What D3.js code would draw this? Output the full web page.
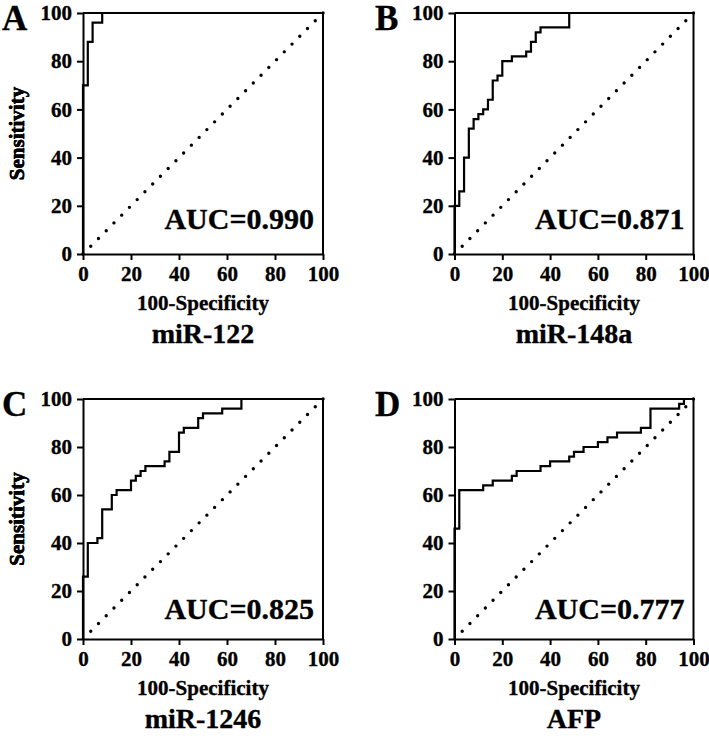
<!DOCTYPE html>
<html>
<head>
<meta charset="utf-8">
<script src="https://cdn.jsdelivr.net/npm/d3@7"></script>
<style>
  html, body { margin: 0; padding: 0; background: #fff; }
  svg text { font-family: "Times New Roman", "Liberation Serif", serif; font-weight: bold; fill: #000; stroke: #000; stroke-width: 0.35px; }
</style>
</head>
<body>
<svg id="chart" width="709" height="736"></svg>
<script>
// ---- data ----
const axisTicks = [0, 20, 40, 60, 80, 100];
const panelLetters = ["A", "B", "C", "D"];
const markerNames = ["miR-122", "miR-148a", "miR-1246", "AFP"];
const aucLabels = ["AUC=0.990", "AUC=0.871", "AUC=0.825", "AUC=0.777"];
const xTitle = "100-Specificity";
const yTitle = "Sensitivity";

// ROC corner points (100-Specificity %, Sensitivity %)
const fprA  = [0, 0, 2, 4, 8, 100];
const sensA = [0, 70, 88, 96, 100, 100];

const fprB  = [0, 0, 2, 4, 6, 8, 10, 12, 14, 16, 18, 20, 24, 30, 32, 34, 36, 48, 100];
const sensB = [0, 20, 26, 40, 52, 56, 58, 60, 64, 72, 74, 80, 82, 84, 88, 92, 94, 100, 100];

const fprC  = [0, 0, 2, 6, 8, 12, 14, 20, 22, 24, 26, 34, 36, 40, 42, 48, 50, 58, 66, 100];
const sensC = [0, 26, 40, 42, 54, 60, 62, 66, 68, 70, 72, 74, 78, 86, 88, 92, 94, 96, 100, 100];

const fprD  = [0, 0, 2, 12, 16, 24, 26, 36, 40, 48, 50, 54, 60, 64, 68, 78, 82, 94, 96, 100];
const sensD = [0, 46, 62, 64, 66, 68, 70, 72, 74, 76, 78, 80, 82, 84, 86, 88, 96, 98, 100, 100];

const referenceLine = [[0, 0], [100, 100]];

// ---- layout ----
const svg = d3.select("#chart");
const panels = [
  { fpr: fprA, sens: sensA, left: 83,    right: 323,   top: 13,  bottom: 254, aucOff: 25, lx: 2,   ly: 30 },
  { fpr: fprB, sens: sensB, left: 454.5, right: 693.5, top: 13,  bottom: 254, aucOff: 25, lx: 375, ly: 30 },
  { fpr: fprC, sens: sensC, left: 83,    right: 323,   top: 399, bottom: 639, aucOff: 20, lx: 2,   ly: 416 },
  { fpr: fprD, sens: sensD, left: 454.5, right: 693.5, top: 399, bottom: 639, aucOff: 20, lx: 375, ly: 416 }
];

panels.forEach((p, i) => {
  const x = d3.scaleLinear().domain([0, 100]).range([p.left, p.right]);
  const y = d3.scaleLinear().domain([0, 100]).range([p.bottom, p.top]);
  const g = svg.append("g");

  // dotted reference diagonal
  const diagLen = Math.hypot(x(100) - x(0), y(0) - y(100));
  const nDots = 31;
  g.append("path")
    .attr("d", d3.line().x(d => x(d[0])).y(d => y(d[1]))(referenceLine.slice().reverse()))
    .attr("fill", "none").attr("stroke", "#000")
    .attr("stroke-width", 3.4).attr("stroke-linecap", "round")
    .attr("stroke-dasharray", `0 ${diagLen / nDots}`);

  // frame (top/right)
  g.append("path")
    .attr("d", `M${x(0)},${y(100)}H${x(100)}V${y(0)}`)
    .attr("fill", "none").attr("stroke", "#000").attr("stroke-width", 2);

  // ROC curve
  const pts = p.fpr.map((v, k) => [v, p.sens[k]]);
  g.append("path")
    .attr("d", d3.line().curve(d3.curveStepAfter).x(d => x(d[0])).y(d => y(d[1]))(pts))
    .attr("fill", "none").attr("stroke", "#000").attr("stroke-width", 2.2)
    .attr("stroke-linejoin", "miter").attr("stroke-linecap", "square");

  // axes
  const xAxis = g.append("g").attr("transform", `translate(0,${p.bottom})`)
    .call(d3.axisBottom(x).tickValues(axisTicks).tickSize(6).tickSizeOuter(0).tickPadding(6));
  const yAxis = g.append("g").attr("transform", `translate(${p.left},0)`)
    .call(d3.axisLeft(y).tickValues(axisTicks).tickSize(6).tickSizeOuter(0).tickPadding(5));
  [xAxis, yAxis].forEach(a => {
    a.select(".domain").attr("stroke", "#000").attr("stroke-width", 2);
    a.selectAll(".tick line").attr("stroke", "#000").attr("stroke-width", 2);
    a.selectAll(".tick text").style("font-size", "21px")
      .style("font-family", '"Times New Roman", "Liberation Serif", serif')
      .style("font-weight", "bold").attr("fill", "#000");
  });
  xAxis.selectAll(".tick text").attr("dy", "0.71em");

  // axis titles
  g.append("text")
    .attr("x", (p.left + p.right) / 2).attr("y", p.bottom + 56)
    .attr("text-anchor", "middle").style("font-size", "21px").text(xTitle);
  g.append("text")
    .attr("transform", `translate(24,${(p.top + p.bottom) / 2}) rotate(-90)`)
    .attr("text-anchor", "middle").style("font-size", "21px").text(yTitle);

  // AUC label
  g.append("text")
    .attr("x", p.right - 9).attr("y", p.bottom - p.aucOff)
    .attr("text-anchor", "end").style("font-size", "30px").text(aucLabels[i]);

  // marker name
  g.append("text")
    .attr("x", (p.left + p.right) / 2).attr("y", p.bottom + 89)
    .attr("text-anchor", "middle").style("font-size", "28px").text(markerNames[i]);

  // panel letter
  g.append("text")
    .attr("x", p.lx).attr("y", p.ly)
    .style("font-size", "35px").text(panelLetters[i]);
});
</script>
</body>
</html>
